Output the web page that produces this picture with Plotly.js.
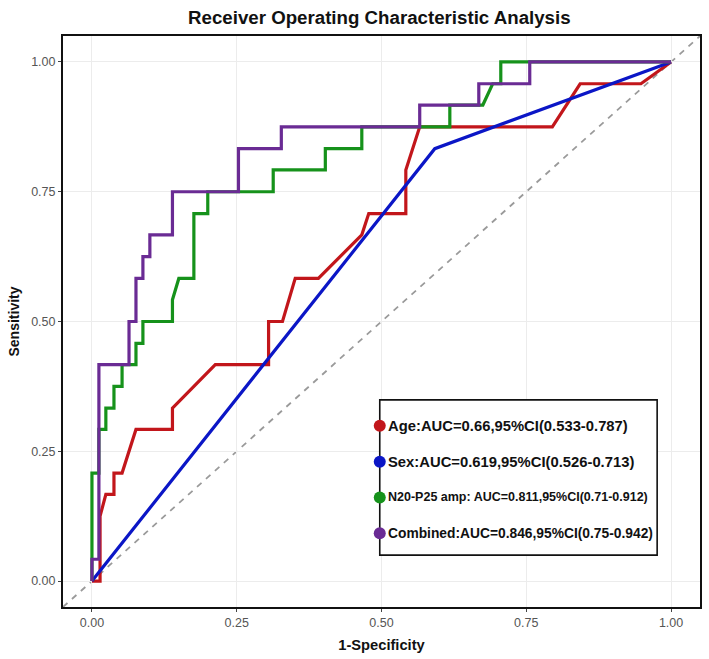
<!DOCTYPE html>
<html>
<head>
<meta charset="utf-8">
<script src="https://cdn.plot.ly/plotly-3.0.1.min.js"></script>
<style>
  html, body { margin: 0; padding: 0; background: #ffffff; }
  #chart { width: 709px; height: 659px; }
</style>
</head>
<body>
<div id="chart"></div>
<script>
// ROC curve points (false positive rate vs. true positive rate) for each predictor
const ageFpr = [0, 0.014, 0.014, 0.024, 0.038, 0.038, 0.052, 0.076, 0.139, 0.139, 0.213, 0.305, 0.305, 0.329, 0.351, 0.391, 0.466, 0.478, 0.542, 0.542, 0.566, 0.795, 0.843, 0.948, 1];
const ageTpr = [0, 0, 0.125, 0.167, 0.167, 0.208, 0.208, 0.292, 0.292, 0.333, 0.417, 0.417, 0.5, 0.5, 0.583, 0.583, 0.667, 0.708, 0.708, 0.792, 0.875, 0.875, 0.958, 0.958, 1];

const sexFpr = [0, 0.592, 1];
const sexTpr = [0, 0.833, 1];

const ampFpr = [0, 0, 0.012, 0.012, 0.024, 0.024, 0.038, 0.038, 0.052, 0.052, 0.076, 0.076, 0.088, 0.088, 0.139, 0.139, 0.150, 0.176, 0.176, 0.2, 0.2, 0.313, 0.313, 0.403, 0.403, 0.466, 0.466, 0.618, 0.618, 0.675, 0.692, 0.706, 0.706, 1];
const ampTpr = [0, 0.208, 0.208, 0.292, 0.292, 0.333, 0.333, 0.375, 0.375, 0.417, 0.417, 0.458, 0.458, 0.5, 0.5, 0.542, 0.583, 0.583, 0.708, 0.708, 0.75, 0.75, 0.792, 0.792, 0.833, 0.833, 0.875, 0.875, 0.917, 0.917, 0.958, 0.958, 1, 1];

const combFpr = [0, 0, 0.012, 0.012, 0.064, 0.064, 0.076, 0.076, 0.088, 0.088, 0.1, 0.1, 0.139, 0.139, 0.253, 0.253, 0.327, 0.327, 0.566, 0.566, 0.668, 0.668, 0.756, 0.756, 1];
const combTpr = [0, 0.042, 0.042, 0.417, 0.417, 0.5, 0.5, 0.583, 0.583, 0.625, 0.625, 0.667, 0.667, 0.75, 0.75, 0.833, 0.833, 0.875, 0.875, 0.917, 0.917, 0.958, 0.958, 1, 1];

// Legend labels
const legendLabels = [
  "Age:AUC=0.66,95%CI(0.533-0.787)",
  "Sex:AUC=0.619,95%CI(0.526-0.713)",
  "N20-P25 amp: AUC=0.811,95%CI(0.71-0.912)",
  "Combined:AUC=0.846,95%CI(0.75-0.942)"
];

// Axis ticks
const tickVals = [0, 0.25, 0.5, 0.75, 1];
const tickText = ["0.00", "0.25", "0.50", "0.75", "1.00"];

const colors = ["#C2161B", "#0B16C6", "#16921B", "#6A2B94"];
const FONT = "Arial, Liberation Sans, sans-serif";

function curve(x, y, color) {
  return {
    x: x, y: y, type: "scatter", mode: "lines",
    line: { color: color, width: 3.2, shape: "linear" },
    hoverinfo: "skip", showlegend: false
  };
}

const traces = [
  curve(ageFpr, ageTpr, colors[0]),
  curve(sexFpr, sexTpr, colors[1]),
  curve(ampFpr, ampTpr, colors[2]),
  curve(combFpr, combTpr, colors[3])
];

// Legend box geometry (data coordinates)
const boxX0 = 0.497, boxX1 = 0.976, boxY0 = 0.05, boxY1 = 0.349;
const rowY = [0.299, 0.230, 0.161, 0.092];
const rowFontSize = [14.8, 14.8, 12.5, 13.8];

const shapes = [
  // chance line
  { type: "line", xref: "x", yref: "y", x0: -0.05, y0: -0.05, x1: 1.05, y1: 1.05,
    line: { color: "#9a9a9a", width: 1.8, dash: "6px,6px" }, layer: "below" },
  // legend frame
  { type: "rect", xref: "x", yref: "y", x0: boxX0, x1: boxX1, y0: boxY0, y1: boxY1,
    line: { color: "#111111", width: 1.6 }, fillcolor: "rgba(255,255,255,1)", layer: "above" }
];

const annotations = [];
legendLabels.forEach((lab, i) => {
  shapes.push({
    type: "circle", xref: "x", yref: "y", xsizemode: "pixel", ysizemode: "pixel",
    xanchor: boxX0, yanchor: rowY[i], x0: -6, x1: 6, y0: -6, y1: 6,
    fillcolor: colors[i], line: { color: colors[i], width: 0 }, layer: "above"
  });
  annotations.push({
    xref: "x", yref: "y", x: boxX0, y: rowY[i], xanchor: "left", yanchor: "middle",
    xshift: 6, showarrow: false, text: "<b>" + lab + "</b>",
    font: { family: FONT, size: rowFontSize[i], color: "#111111" }
  });
});

const layout = {
  width: 709, height: 659,
  margin: { l: 63, r: 9, t: 36, b: 52 },
  paper_bgcolor: "#ffffff", plot_bgcolor: "#ffffff",
  title: {
    text: "<b>Receiver Operating Characteristic Analysis</b>",
    font: { family: FONT, size: 18.7, color: "#111111" },
    x: 0.535, xanchor: "center", y: 0.973, yanchor: "middle"
  },
  xaxis: {
    range: [-0.05, 1.05], tickvals: tickVals, ticktext: tickText,
    showgrid: true, gridcolor: "#ececec", gridwidth: 1, zeroline: false,
    showline: true, mirror: true, linecolor: "#111111", linewidth: 2,
    ticks: "outside", ticklen: 3, tickcolor: "#444", tickwidth: 1,
    tickfont: { family: FONT, size: 12.5, color: "#555555" },
    title: { text: "<b>1-Specificity</b>", standoff: 11,
      font: { family: FONT, size: 14.7, color: "#111111" } },
    fixedrange: true
  },
  yaxis: {
    range: [-0.05, 1.05], tickvals: tickVals, ticktext: tickText,
    showgrid: true, gridcolor: "#ececec", gridwidth: 1, zeroline: false,
    showline: true, mirror: true, linecolor: "#111111", linewidth: 2,
    ticks: "outside", ticklen: 3, tickcolor: "#444", tickwidth: 1,
    tickfont: { family: FONT, size: 12.5, color: "#555555" },
    title: { text: "<b>Sensitivity</b>", standoff: 8,
      font: { family: FONT, size: 14, color: "#111111" } },
    fixedrange: true
  },
  shapes: shapes,
  annotations: annotations,
  showlegend: false
};

Plotly.newPlot("chart", traces, layout, { displayModeBar: false, staticPlot: true });
</script>
</body>
</html>
